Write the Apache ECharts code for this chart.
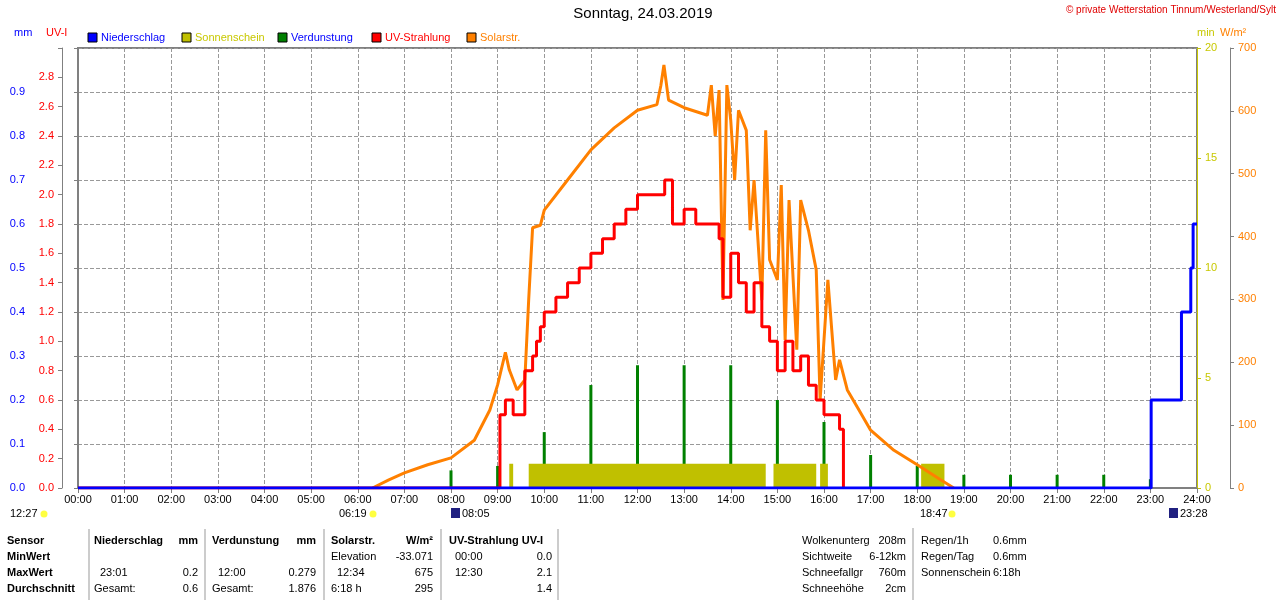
<!DOCTYPE html>
<html>
<head>
<meta charset="utf-8">
<script src="https://cdn.jsdelivr.net/npm/echarts@6/dist/echarts.min.js"></script>
<style>
  html, body { margin: 0; padding: 0; background: #fff; }
  #chart { width: 1280px; height: 600px; }
</style>
</head>
<body>
<div id="chart"></div>
<script>
// Zeit in Minuten seit 00:00
var solarTimes = ['06:19','06:40','07:00','07:30','08:00','08:30','08:50','09:00','09:10','09:15','09:25','09:35','09:40','09:45','09:55','10:00','10:30','11:00','11:30','12:00','12:25','12:30','12:34','12:40','13:00','13:30','13:35','13:40','13:45','13:50','13:55','14:00','14:05','14:10','14:20','14:25','14:30','14:40','14:45','14:50','15:00','15:05','15:10','15:15','15:25','15:30','15:40','15:50','15:55','16:05','16:10','16:15','16:20','16:30','16:45','17:00','17:30','18:00','18:30','18:47'];
var solarValues = [0,13,24,37,48,76,124,164,216,188,156,172,300,414,418,442,490,538,573,601,610,640,673,617,605,593,641,560,633,299,641,585,490,601,569,410,490,299,569,363,331,482,235,458,220,458,410,347,140,331,251,172,204,156,124,92,60,37,13,0];

var uvTimes = ['00:00','09:03','09:10','09:20','09:35','09:45','09:50','09:55','10:00','10:15','10:30','10:45','11:00','11:15','11:30','11:45','12:00','12:35','12:45','13:00','13:15','13:45','13:50','14:00','14:10','14:20','14:30','14:40','14:50','15:00','15:10','15:20','15:30','15:40','15:50','16:00','16:20','16:25'];
var uvValues = [0,0.5,0.6,0.5,0.8,0.9,1.0,1.1,1.2,1.3,1.4,1.5,1.6,1.7,1.8,1.9,2.0,2.1,1.8,1.9,1.8,1.7,1.3,1.6,1.4,1.2,1.4,1.1,1.0,0.8,1.0,0.8,0.9,0.7,0.6,0.5,0.4,0];

var rainTimes = ['00:00','23:01','23:40','23:52','23:55','24:00'];
var rainValues = [0,0.2,0.4,0.5,0.6,0.6];

var sunTimes = ['09:15','09:20','09:40','14:45','14:55','15:50','15:55','16:05','18:05','18:35'];
var sunValues = [1.1,0,1.1,0,1.1,0,1.1,0,1.1,0];

var evapTimes = ['08:00','09:00','10:00','11:00','12:00','13:00','14:00','15:00','16:00','17:00','18:00','19:00','20:00','21:00','22:00','23:00'];
var evapValues = [0.04,0.05,0.127,0.234,0.279,0.279,0.279,0.2,0.15,0.075,0.05,0.03,0.03,0.03,0.03,0.02];

function m(t) { var p = t.split(':'); return +p[0] * 60 + +p[1]; }
function pairs(ts, vs) { return ts.map(function (t, i) { return [m(t), vs[i]]; }); }
function hh(v) { var h = Math.round(v / 60); return (h < 10 ? '0' : '') + h + ':00'; }

// Sonnenschein als Stufen mit 0 vor jedem Block
var sunData = [[0, 0]];
for (var i = 0; i < sunTimes.length; i++) sunData.push([m(sunTimes[i]), sunValues[i]]);
sunData.push([1440, 0]);

var font = 'Liberation Sans';
var FS = 11;
var g = [];
function txt(x, y, s, color, opt) {
  opt = opt || {};
  g.push({ type: 'text', x: x, y: y, style: { text: s, fill: color || '#000', font: (opt.bold ? 'bold ' : '') + (opt.size || FS) + 'px ' + font, textAlign: opt.align || 'left' } });
}
function rtxt(x, y, s, opt) { opt = opt || {}; opt.align = 'right'; txt(x, y, s, '#000', opt); }
function vline(x, y1, y2) { g.push({ type: 'line', shape: { x1: x, y1: y1, x2: x, y2: y2 }, style: { stroke: '#999', lineWidth: 1 } }); }

// Kopf
g.push({ type: 'text', x: 643, y: 6, style: { text: 'Sonntag, 24.03.2019', fill: '#000', font: '15px ' + font, textAlign: 'center' } });
txt(1276, 5, '© private Wetterstation Tinnum/Westerland/Sylt', '#e00000', { align: 'right', size: 10 });
txt(14, 27, 'mm', '#0000ff');
txt(46, 27, 'UV-I', '#ff0000');
txt(1197, 27, 'min', '#c8c800');
txt(1220, 27, 'W/m²', '#ff8000');
var legend = [['Niederschlag', '#0000ff', '#0000ff'], ['Sonnenschein', '#c0c000', '#c8c800'], ['Verdunstung', '#008000', '#0000ff'], ['UV-Strahlung', '#ff0000', '#ff0000'], ['Solarstr.', '#ff8000', '#ff8000']];
var lx = [88, 182, 278, 372, 467];
legend.forEach(function (l, i) {
  g.push({ type: 'rect', shape: { x: lx[i], y: 33, width: 9, height: 9 }, style: { fill: l[1], stroke: '#000', lineWidth: 1 } });
  txt(lx[i] + 13, 32, l[0], l[2]);
});

// Sonnenauf/-untergang
var marks = [[10, '12:27'], [339, '06:19'], [462, '08:05'], [920, '18:47'], [1180, '23:28']];
marks.forEach(function (k) { txt(k[0], 508, k[1], '#000'); });
[[44, 514], [373, 514], [952, 514]].forEach(function (c) { g.push({ type: 'circle', shape: { cx: c[0], cy: c[1], r: 3.5 }, style: { fill: '#ffff40' } }); });
g.push({ type: 'rect', shape: { x: 451, y: 508, width: 9, height: 10 }, style: { fill: '#202080' } });
g.push({ type: 'rect', shape: { x: 1169, y: 508, width: 9, height: 10 }, style: { fill: '#202080' } });

// Tabelle unten
var rows = [542, 558, 574, 590];
var ty = function (r) { return rows[r] - 7; };
txt(7, ty(0), 'Sensor', '#000', { bold: true });
txt(7, ty(1), 'MinWert', '#000', { bold: true });
txt(7, ty(2), 'MaxWert', '#000', { bold: true });
txt(7, ty(3), 'Durchschnitt', '#000', { bold: true });
[89, 205, 324, 441, 558].forEach(function (x) { vline(x, 529, 600); });
txt(94, ty(0), 'Niederschlag', '#000', { bold: true }); rtxt(198, ty(0), 'mm', { bold: true });
txt(100, ty(2), '23:01'); rtxt(198, ty(2), '0.2');
txt(94, ty(3), 'Gesamt:'); rtxt(198, ty(3), '0.6');
txt(212, ty(0), 'Verdunstung', '#000', { bold: true }); rtxt(316, ty(0), 'mm', { bold: true });
txt(218, ty(2), '12:00'); rtxt(316, ty(2), '0.279');
txt(212, ty(3), 'Gesamt:'); rtxt(316, ty(3), '1.876');
txt(331, ty(0), 'Solarstr.', '#000', { bold: true }); rtxt(433, ty(0), 'W/m²', { bold: true });
txt(331, ty(1), 'Elevation'); rtxt(433, ty(1), '-33.071');
txt(337, ty(2), '12:34'); rtxt(433, ty(2), '675');
txt(331, ty(3), '6:18 h'); rtxt(433, ty(3), '295');
txt(449, ty(0), 'UV-Strahlung UV-I', '#000', { bold: true });
txt(455, ty(1), '00:00'); rtxt(552, ty(1), '0.0');
txt(455, ty(2), '12:30'); rtxt(552, ty(2), '2.1');
rtxt(552, ty(3), '1.4');
var info = [['Wolkenunterg', '208m'], ['Sichtweite', '6-12km'], ['Schneefallgr', '760m'], ['Schneehöhe', '2cm']];
info.forEach(function (r, i) { txt(802, ty(i), r[0]); rtxt(906, ty(i), r[1]); });
vline(913, 528, 600);
var info2 = [['Regen/1h', '0.6mm'], ['Regen/Tag', '0.6mm'], ['Sonnenschein', '6:18h']];
info2.forEach(function (r, i) { txt(921, ty(i), r[0]); txt(993, ty(i), r[1]); });

var chart = echarts.init(document.getElementById('chart'));
var axisFont = { fontFamily: font, fontSize: FS };
chart.setOption({
  animation: false,
  textStyle: { fontFamily: font },
  grid: { left: 78, right: 83, top: 48, bottom: 112, show: true, borderColor: '#808080', borderWidth: 2 },
  xAxis: {
    type: 'value', min: 0, max: 1440, interval: 60,
    axisLine: { lineStyle: { color: '#808080' } },
    axisTick: { length: 5, lineStyle: { color: '#808080' } },
    axisLabel: Object.assign({ color: '#000', formatter: hh, margin: 6 }, axisFont),
    splitLine: { show: true, lineStyle: { type: 'dashed', color: '#999' } }
  },
  yAxis: [
    { type: 'value', min: 0, max: 1.0, interval: 0.1, position: 'left', offset: 45,
      axisLine: { show: true, lineStyle: { color: '#808080' } }, axisTick: { show: true, length: 4 },
      axisLabel: Object.assign({ color: '#0000ff', formatter: function (v) { return v >= 1 ? '' : v.toFixed(1); } }, axisFont),
      splitLine: { show: true, lineStyle: { type: 'dashed', color: '#999' } } },
    { type: 'value', min: 0, max: 3.0, interval: 0.2, position: 'left', offset: 16,
      axisLine: { show: true, lineStyle: { color: '#808080' } }, axisTick: { show: true, length: 4 },
      axisLabel: Object.assign({ color: '#ff0000', formatter: function (v) { return v >= 3 ? '' : v.toFixed(1); } }, axisFont),
      splitLine: { show: false } },
    { type: 'value', min: 0, max: 20, interval: 5, position: 'right', offset: 0,
      axisLine: { show: true, lineStyle: { color: '#c8c800' } }, axisTick: { show: true, length: 4 },
      axisLabel: Object.assign({ color: '#c8c800' }, axisFont), splitLine: { show: false } },
    { type: 'value', min: 0, max: 700, interval: 100, position: 'right', offset: 33,
      axisLine: { show: true, lineStyle: { color: '#808080' } }, axisTick: { show: true, length: 4 },
      axisLabel: Object.assign({ color: '#ff8000' }, axisFont), splitLine: { show: false } }
  ],
  series: [
    { name: 'Sonnenschein', type: 'line', yAxisIndex: 2, step: 'end', symbol: 'none', data: sunData,
      lineStyle: { width: 0 }, areaStyle: { color: '#c0c000', opacity: 1 } },
    { name: 'Verdunstung', type: 'bar', yAxisIndex: 0, barWidth: 3, data: pairs(evapTimes, evapValues),
      itemStyle: { color: '#008000' } },
    { name: 'Solarstr.', type: 'line', yAxisIndex: 3, symbol: 'none', data: pairs(solarTimes, solarValues),
      lineStyle: { color: '#ff8000', width: 3 } },
    { name: 'UV-Strahlung', type: 'line', yAxisIndex: 1, step: 'end', symbol: 'none', data: pairs(uvTimes, uvValues),
      lineStyle: { color: '#ff0000', width: 3 } },
    { name: 'Niederschlag', type: 'line', yAxisIndex: 0, step: 'end', symbol: 'none', data: pairs(rainTimes, rainValues),
      lineStyle: { color: '#0000ff', width: 3 } }
  ],
  graphic: g
});
</script>
</body>
</html>
